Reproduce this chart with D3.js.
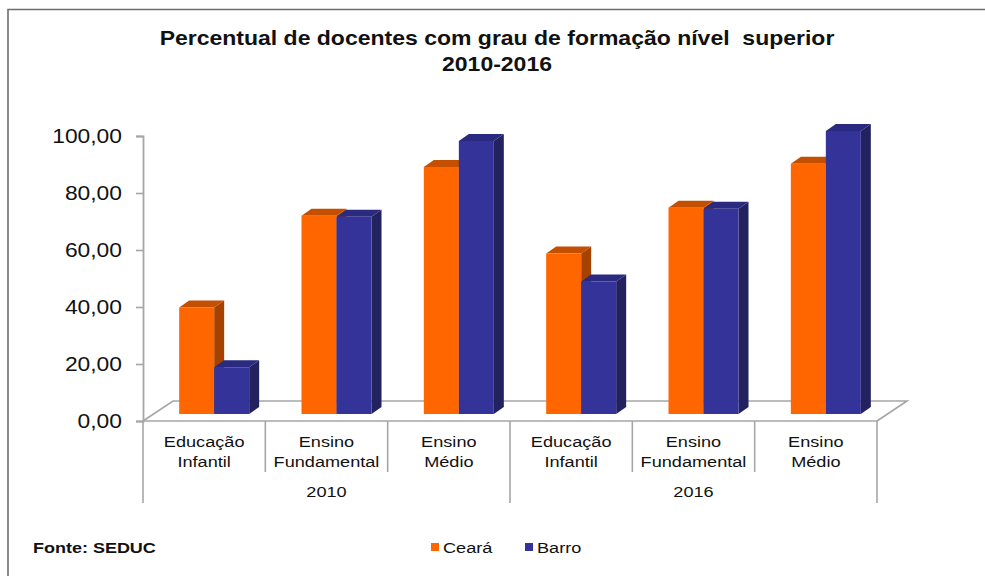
<!DOCTYPE html>
<html>
<head>
<meta charset="utf-8">
<script src="https://cdn.jsdelivr.net/npm/d3@7"></script>
<style>
  html, body { margin: 0; padding: 0; background: #fff; }
  svg { display: block; font-family: "Liberation Sans", Arial, sans-serif; }
</style>
</head>
<body>
<div id="chart"></div>
<script>
// dados
const years = ["2010", "2016"];
const levels = ["Educação Infantil", "Ensino Fundamental", "Ensino Médio"];
const seriesNames = ["Ceará", "Barro"];
const ceara = [37.4, 69.6, 86.7, 56.3, 72.4, 87.8];
const barro = [16.4, 69.2, 95.8, 46.5, 72.0, 99.3];
const yTicks = [0, 20, 40, 60, 80, 100];

const W = 985, H = 576;
const stretch = 1.17;           // texto do original é mais largo que alto
const depth = { fx: 30, fy: -20 };  // profundidade do piso
const barOff = { fx: 10, fy: -7 };  // face frontal das barras
const barDepth = { fx: 10, fy: -7 };

const categories = [];
years.forEach(yr => levels.forEach(lv => categories.push({ year: yr, level: lv })));
const data = categories.map((c, i) => ({ ...c, key: c.year + "|" + c.level, values: [ceara[i], barro[i]] }));

const colors = {
  front: ["#ff6600", "#333399"],
  top:   ["#c44f00", "#2a2a80"],
  side:  ["#a54200", "#22225f"]
};

const svg = d3.select("#chart").append("svg")
  .attr("width", W).attr("height", H);

// moldura
svg.append("path")
  .attr("d", `M8,${H} L8,9.5 L${W},9.5`)
  .attr("fill", "none").attr("stroke", "#6e6e6e").attr("stroke-width", 1.6);

// 1. Escalas
const x = d3.scaleBand().domain(data.map(d => d.key)).range([143, 877]);
const xInner = d3.scaleBand().domain(seriesNames).range([0, 70]);
const y = d3.scaleLinear().domain([0, 100]).range([421, 136]);

// texto esticado horizontalmente
const stretchedText = (g, tx, ty, txt, size, anchor, weight, sx = stretch) => {
  g.append("g")
    .attr("transform", `translate(${tx},${ty}) scale(${sx},1)`)
    .append("text")
    .attr("text-anchor", anchor)
    .attr("xml:space", "preserve")
    .style("font-size", size + "px")
    .style("font-weight", weight || "normal")
    .style("fill", "#111")
    .text(txt);
};

// 2. Título
stretchedText(svg, 497, 45, "Percentual de docentes com grau de formação nível  superior", 20, "middle", "bold", 1.15);
stretchedText(svg, 497, 71, "2010-2016", 20, "middle", "bold", 1.15);

// 3. Piso e eixo
const gridCol = "#a6a6a6";
const x0 = x.range()[0], x1 = x.range()[1], y0 = y(0);
svg.append("path")
  .attr("d", `M${x0},${y0} L${x0 + depth.fx},${y0 + depth.fy} L${x1 + depth.fx},${y0 + depth.fy} L${x1},${y0}`)
  .attr("fill", "none").attr("stroke", gridCol).attr("stroke-width", 1.6);

const fmt = d3.formatLocale({ decimal: ",", thousands: ".", grouping: [3], currency: ["", ""] }).format(".2f");
const yAxis = svg.append("g")
  .attr("transform", `translate(${x0},0)`)
  .call(d3.axisLeft(y).tickValues(yTicks).tickSize(7).tickPadding(14).tickFormat(fmt));
yAxis.select(".domain").attr("stroke", gridCol).attr("stroke-width", 1.8);
yAxis.selectAll(".tick line").attr("stroke", gridCol).attr("stroke-width", 1.6);
yAxis.selectAll(".tick text")
  .attr("x", -21 / stretch)
  .attr("transform", `scale(${stretch},1)`)
  .style("font-size", "19.5px")
  .style("font-family", "'Liberation Sans', Arial, sans-serif")
  .style("fill", "#111");

// linha frontal do piso (sobre o eixo)
svg.append("line")
  .attr("x1", x0).attr("x2", x1).attr("y1", y0).attr("y2", y0)
  .attr("stroke", gridCol).attr("stroke-width", 1.6);

// 4. Barras 3D
const bars = svg.append("g");
data.forEach(d => {
  seriesNames.forEach((s, si) => {
    const v = d.values[si];
    const bx = x(d.key) + (x.bandwidth() - 70) / 2 + xInner(s) + barOff.fx;
    const bw = xInner.bandwidth();
    const by = y(v) + barOff.fy;
    const bb = y0 + barOff.fy;
    const g = bars.append("g");
    // face lateral
    g.append("path")
      .attr("d", `M${bx + bw},${by} L${bx + bw + barDepth.fx},${by + barDepth.fy} L${bx + bw + barDepth.fx},${bb + barDepth.fy} L${bx + bw},${bb} Z`)
      .attr("fill", colors.side[si]);
    // topo
    g.append("path")
      .attr("d", `M${bx},${by} L${bx + barDepth.fx},${by + barDepth.fy} L${bx + bw + barDepth.fx},${by + barDepth.fy} L${bx + bw},${by} Z`)
      .attr("fill", colors.top[si]);
    // frente
    g.append("rect")
      .attr("x", bx).attr("y", by)
      .attr("width", bw).attr("height", bb - by)
      .attr("fill", colors.front[si]);
  });
});

// 5. Eixo de categorias (dois níveis)
const catG = svg.append("g");
const bounds = x.domain().map(k => x(k)).concat([x1]);
bounds.forEach((bx, i) => {
  const isYear = i % levels.length === 0;
  catG.append("line")
    .attr("x1", bx).attr("x2", bx)
    .attr("y1", y0).attr("y2", isYear ? 503 : 472)
    .attr("stroke", gridCol).attr("stroke-width", 1.6);
});
data.forEach(d => {
  const cx = x(d.key) + x.bandwidth() / 2;
  d.level.split(" ").forEach((w, li) => {
    stretchedText(catG, cx, 447 + li * 19.5, w, 15.5, "middle");
  });
});
years.forEach(yr => {
  const keys = data.filter(d => d.year === yr).map(d => d.key);
  const cx = (x(keys[0]) + x(keys[keys.length - 1]) + x.bandwidth()) / 2;
  stretchedText(catG, cx, 497, yr, 15.5, "middle");
});

// 6. Fonte e legenda
stretchedText(svg, 33, 553, "Fonte: SEDUC", 15, "start", "bold", 1.2);

const legendX = [431, 525];
seriesNames.forEach((s, i) => {
  svg.append("rect")
    .attr("x", legendX[i]).attr("y", 543)
    .attr("width", 8).attr("height", 8)
    .attr("fill", colors.front[i]);
  stretchedText(svg, legendX[i] + 12, 553, s, 15.5, "start");
});
</script>
</body>
</html>
